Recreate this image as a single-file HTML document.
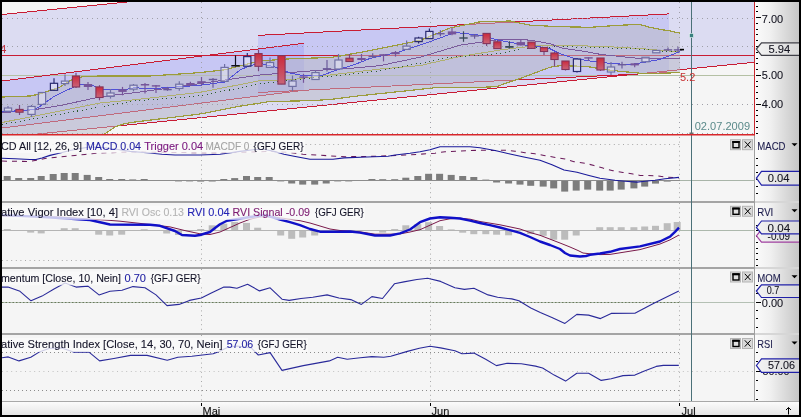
<!DOCTYPE html>
<html><head><meta charset="utf-8">
<style>
html,body{margin:0;padding:0;background:#000;width:801px;height:417px;overflow:hidden}
svg{display:block}
text{font-family:"Liberation Sans",Arial,sans-serif;font-size:11px}
.tt text{stroke-width:0.25px;paint-order:stroke}
</style></head><body>
<svg width="801" height="417" viewBox="0 0 801 417">
<defs>
<linearGradient id="ax" x1="0" x2="1" y1="0" y2="0">
<stop offset="0" stop-color="#fbfbfb"/><stop offset="0.35" stop-color="#f0f0f0"/><stop offset="1" stop-color="#c6c6c6"/>
</linearGradient>
<linearGradient id="xax" x1="0" x2="0" y1="0" y2="1">
<stop offset="0" stop-color="#fbfbfb"/><stop offset="1" stop-color="#e6e6e6"/>
</linearGradient>
<linearGradient id="tag" x1="0" x2="1" y1="0" y2="0">
<stop offset="0" stop-color="#f4f4f4"/><stop offset="1" stop-color="#d4d4d4"/>
</linearGradient>
<linearGradient id="rc" x1="0" x2="0" y1="0" y2="1">
<stop offset="0" stop-color="#cc2a3c"/><stop offset="1" stop-color="#c86478"/>
</linearGradient>
<clipPath id="cm"><rect x="2" y="2" width="752" height="132"/></clipPath>
</defs>
<!-- black frame -->
<rect x="0" y="0" width="801" height="417" fill="#000"/>
<!-- main panel bg -->
<rect x="2" y="2" width="752" height="133" fill="#f5f5f5"/>
<!-- sub panels bg -->
<rect x="2" y="135" width="752" height="266" fill="#f5f5f5"/>
<!-- right axis -->
<rect x="755" y="2" width="44" height="399" fill="url(#ax)"/>
<!-- x axis -->
<rect x="2" y="402" width="797" height="13" fill="url(#xax)"/>
<rect x="2" y="401" width="797" height="1" fill="#a8a8a8"/>
<!-- separators -->
<g fill="#a4a4a4">
<rect x="2" y="201" width="752" height="2"/>
<rect x="2" y="267" width="752" height="2"/>
<rect x="2" y="333" width="752" height="2"/>
</g>
<g fill="#d6d6d6">
<rect x="755" y="201" width="44" height="2"/>
<rect x="755" y="267" width="44" height="2"/>
<rect x="755" y="333" width="44" height="2"/>
</g>
<rect x="754" y="135" width="1" height="266" fill="#a0a0a0"/>

<g id="main" clip-path="url(#cm)">
<polygon points="2.0,14.5 125.0,2.0 754.0,2.0 754.0,62.3 2.0,137.5" fill="#dcdcf2"/>
<polygon points="2.0,81.0 304.0,43.2 304.0,90.2 2.0,128.0" fill="#5050ff" fill-opacity="0.15"/>
<polygon points="258.0,35.4 669.0,13.9 669.0,72.5 258.0,92.5" fill="#5050ff" fill-opacity="0.14"/>
<line x1="2" x2="754" y1="75.5" y2="75.5" stroke="#b4c0a4" stroke-width="1"/>
<polyline points="2.0,14.5 130.0,1.7" fill="none" stroke="#c81c34" stroke-width="1" shape-rendering="crispEdges" />
<polyline points="2.0,81.0 304.0,43.2" fill="none" stroke="#c81c34" stroke-width="1" shape-rendering="crispEdges" />
<polyline points="2.0,128.0 304.0,90.2" fill="none" stroke="#c81c34" stroke-width="1" shape-rendering="crispEdges" />
<polyline points="2.0,137.5 754.0,62.3" fill="none" stroke="#c81c34" stroke-width="1" shape-rendering="crispEdges" />
<polyline points="258.0,35.4 669.0,13.9" fill="none" stroke="#c81c34" stroke-width="1" shape-rendering="crispEdges" />
<polyline points="258.0,92.5 669.0,72.5" fill="none" stroke="#c81c34" stroke-width="1" shape-rendering="crispEdges" />
<line x1="2" x2="754" y1="55.5" y2="55.5" stroke="#c81c34" stroke-width="1" shape-rendering="crispEdges"/>
<polygon points="2.0,97.0 30.0,96.0 40.0,94.0 50.0,90.5 60.0,87.0 68.0,82.0 75.0,78.0 85.0,76.5 100.0,76.0 150.0,76.0 200.0,72.6 225.0,69.8 250.0,63.3 260.0,61.0 290.0,58.8 330.0,57.5 340.0,56.0 370.0,50.6 420.0,40.4 450.0,28.0 480.0,21.8 510.0,21.0 530.0,25.2 560.0,26.7 590.0,27.3 620.0,25.2 640.0,24.5 650.0,27.3 660.0,29.4 670.0,30.9 680.0,33.2 680.0,72.5 660.0,73.4 640.0,73.2 620.0,71.3 605.0,69.5 590.0,67.0 575.0,66.0 560.0,65.7 550.0,67.2 540.0,71.0 520.0,78.5 505.0,83.5 497.0,86.6 480.0,87.4 440.0,87.2 400.0,91.5 360.0,95.7 330.0,99.5 310.0,100.7 270.0,101.5 240.0,106.2 200.0,114.0 135.0,122.0 125.0,123.5 115.0,127.0 103.0,135.0 90.0,142.0 2.0,150.0" fill="#b8b8c4" fill-opacity="0.5"/>
<line x1="2" x2="754" y1="18.5" y2="18.5" stroke="#a0a0a8" stroke-width="1" stroke-dasharray="1 4"/>
<line x1="2" x2="754" y1="46.5" y2="46.5" stroke="#a0a0a8" stroke-width="1" stroke-dasharray="1 4"/>
<line x1="2" x2="754" y1="104.5" y2="104.5" stroke="#a0a0a8" stroke-width="1" stroke-dasharray="1 4"/>
<line x1="2" x2="754" y1="133.5" y2="133.5" stroke="#a0a0a8" stroke-width="1" stroke-dasharray="1 4"/>
<line x1="201.5" x2="201.5" y1="2" y2="135" stroke="#a0a0a8" stroke-width="1" stroke-dasharray="1 4"/>
<line x1="430.5" x2="430.5" y1="2" y2="135" stroke="#a0a0a8" stroke-width="1" stroke-dasharray="1 4"/>
<line x1="679.5" x2="679.5" y1="2" y2="135" stroke="#a0a0a8" stroke-width="1" stroke-dasharray="1 4"/>
<polyline points="2.0,97.0 30.0,96.0 40.0,94.0 50.0,90.5 60.0,87.0 68.0,82.0 75.0,78.0 85.0,76.5 100.0,76.0 150.0,76.0 200.0,72.6 225.0,69.8 250.0,63.3 260.0,61.0 290.0,58.8 330.0,57.5 340.0,56.0 370.0,50.6 420.0,40.4 450.0,28.0 480.0,21.8 510.0,21.0 530.0,25.2 560.0,26.7 590.0,27.3 620.0,25.2 640.0,24.5 650.0,27.3 660.0,29.4 670.0,30.9 680.0,33.2" fill="none" stroke="#9c9c3c" stroke-width="1.2" shape-rendering="crispEdges" />
<polyline points="2.0,150.0 90.0,142.0 103.0,135.0 115.0,127.0 125.0,123.5 135.0,122.0 200.0,114.0 240.0,106.2 270.0,101.5 310.0,100.7 330.0,99.5 360.0,95.7 400.0,91.5 440.0,87.2 480.0,87.4 497.0,86.6 505.0,83.5 520.0,78.5 540.0,71.0 550.0,67.2 560.0,65.7 575.0,66.0 590.0,67.0 605.0,69.5 620.0,71.3 640.0,73.2 660.0,73.4 680.0,72.5" fill="none" stroke="#9c9c3c" stroke-width="1.2" shape-rendering="crispEdges" />
<polyline points="2.0,122.5 100.0,103.0 135.0,99.7 200.0,92.3 260.0,80.7 290.0,79.8 330.0,75.0 380.0,69.0 420.0,65.6 460.0,56.5 500.0,50.0 537.0,45.5 562.0,45.6 600.0,46.2 640.0,48.5 680.0,52.0" fill="none" stroke="#b0b070" stroke-width="1" shape-rendering="crispEdges" />
<polyline points="2.0,124.5 100.0,107.0 135.0,101.0 200.0,95.8 260.0,84.0 290.0,80.4 330.0,76.2 380.0,70.8 450.0,57.4 500.0,53.5 512.0,51.2 525.0,48.7 537.0,47.5 562.0,46.8 600.0,47.5 640.0,49.2 660.0,51.0 680.0,51.6" fill="none" stroke="#2a5a2a" stroke-width="1" shape-rendering="crispEdges" stroke-dasharray="1 3.5"/>
<polyline points="2.0,113.0 36.0,109.4 60.0,105.6 100.0,96.9 140.0,92.0 180.0,86.5 260.0,75.0 290.0,72.6 320.0,70.2 350.0,68.4 380.0,65.6 420.0,57.2 460.0,45.2 500.0,39.4 525.0,39.7 537.0,41.2 550.0,43.7 562.0,48.1 575.0,50.0 587.0,51.8 600.0,54.3 620.0,56.5 640.0,58.5 660.0,59.0 680.0,58.2" fill="none" stroke="#7a5a9c" stroke-width="1" shape-rendering="crispEdges" />
<polyline points="2.0,112.0 35.0,109.4 42.0,105.0 55.0,95.8 65.0,91.0 75.0,86.5 82.0,84.2 90.0,84.2 100.0,88.8 110.0,90.0 125.0,89.5 135.0,87.7 150.0,88.8 200.0,85.3 225.0,82.0 240.0,70.0 250.0,65.6 260.0,63.3 275.0,67.0 290.0,73.0 300.0,75.0 320.0,76.0 340.0,69.0 350.0,66.0 360.0,62.5 370.0,58.4 400.0,51.8 430.0,41.6 455.0,32.5 480.0,35.2 500.0,40.5 525.0,45.0 537.0,46.2 550.0,48.7 556.0,51.8 562.0,54.3 569.0,56.8 575.0,58.5 587.0,60.6 600.0,62.5 630.0,64.8 660.0,59.4 680.0,51.6" fill="none" stroke="#5050d8" stroke-width="1" shape-rendering="crispEdges" />
<line x1="8" x2="8" y1="106" y2="108" stroke="#7070a4" stroke-width="1.2"/>
<line x1="8" x2="8" y1="111.2" y2="112.5" stroke="#7070a4" stroke-width="1.2"/>
<rect x="4.4" y="108.0" width="7.2" height="3.2" fill="#eeeef8" fill-opacity="0.45" stroke="#7070a4" stroke-width="1.2"/>
<line x1="19.5" x2="19.5" y1="105" y2="115" stroke="#7a4a80" stroke-width="1.2"/>
<rect x="15.9" y="109.4" width="7.2" height="2.8" fill="url(#rc)" stroke="#84345a" stroke-width="1.1"/>
<line x1="31.5" x2="31.5" y1="105" y2="106.5" stroke="#7070a4" stroke-width="1.2"/>
<line x1="31.5" x2="31.5" y1="114.4" y2="117" stroke="#7070a4" stroke-width="1.2"/>
<rect x="27.9" y="106.5" width="7.2" height="7.9" fill="#eeeef8" fill-opacity="0.45" stroke="#7070a4" stroke-width="1.2"/>
<line x1="42" x2="42" y1="104.4" y2="105" stroke="#7070a4" stroke-width="1.2"/>
<rect x="38.4" y="92.5" width="7.2" height="11.9" fill="#eeeef8" fill-opacity="0.45" stroke="#7070a4" stroke-width="1.2"/>
<line x1="54" x2="54" y1="78.3" y2="83.3" stroke="#2a2a70" stroke-width="1.2"/>
<line x1="54" x2="54" y1="90.3" y2="91" stroke="#2a2a70" stroke-width="1.2"/>
<rect x="50.4" y="83.3" width="7.2" height="7.0" fill="#eeeef8" fill-opacity="0.45" stroke="#2a2a70" stroke-width="1.2"/>
<line x1="65" x2="65" y1="74.4" y2="81.1" stroke="#7070a4" stroke-width="1.2"/>
<line x1="65" x2="65" y1="83.6" y2="86" stroke="#7070a4" stroke-width="1.2"/>
<rect x="61.4" y="81.1" width="7.2" height="2.5" fill="#eeeef8" fill-opacity="0.45" stroke="#7070a4" stroke-width="1.2"/>
<line x1="76" x2="76" y1="72.7" y2="88" stroke="#7a4a80" stroke-width="1.2"/>
<rect x="72.4" y="76.0" width="7.2" height="11.0" fill="url(#rc)" stroke="#84345a" stroke-width="1.1"/>
<line x1="88" x2="88" y1="82" y2="90" stroke="#76549a" stroke-width="1.2"/>
<rect x="83.8" y="84.0" width="8.4" height="3.0" fill="#76549a"/>
<line x1="99.5" x2="99.5" y1="85.2" y2="100.3" stroke="#7a4a80" stroke-width="1.2"/>
<rect x="95.9" y="86.9" width="7.2" height="10.6" fill="url(#rc)" stroke="#84345a" stroke-width="1.1"/>
<line x1="110.5" x2="110.5" y1="89" y2="93" stroke="#7070a4" stroke-width="1.2"/>
<line x1="110.5" x2="110.5" y1="96.4" y2="98.6" stroke="#7070a4" stroke-width="1.2"/>
<rect x="106.9" y="93.0" width="7.2" height="3.4" fill="#eeeef8" fill-opacity="0.45" stroke="#7070a4" stroke-width="1.2"/>
<line x1="122.5" x2="122.5" y1="86.9" y2="95.3" stroke="#76549a" stroke-width="1.2"/>
<rect x="118.3" y="89.3" width="8.4" height="2.6" fill="#76549a"/>
<line x1="133.5" x2="133.5" y1="84" y2="85.2" stroke="#7070a4" stroke-width="1.2"/>
<line x1="133.5" x2="133.5" y1="89.1" y2="91.3" stroke="#7070a4" stroke-width="1.2"/>
<rect x="129.9" y="85.2" width="7.2" height="3.9" fill="#eeeef8" fill-opacity="0.45" stroke="#7070a4" stroke-width="1.2"/>
<line x1="145" x2="145" y1="83" y2="93.6" stroke="#76549a" stroke-width="1.2"/>
<rect x="140.8" y="84.0" width="8.4" height="1.5" fill="#76549a"/>
<line x1="156" x2="156" y1="85" y2="93" stroke="#76549a" stroke-width="1.2"/>
<rect x="151.8" y="85.2" width="8.4" height="1.4" fill="#76549a"/>
<line x1="167.5" x2="167.5" y1="86.9" y2="90.8" stroke="#6a5a9a" stroke-width="1.2"/>
<rect x="163.3" y="88.9" width="8.4" height="1.4" fill="#6a5a9a"/>
<line x1="179.3" x2="179.3" y1="81.2" y2="84.2" stroke="#7070a4" stroke-width="1.2"/>
<line x1="179.3" x2="179.3" y1="88.4" y2="90.8" stroke="#7070a4" stroke-width="1.2"/>
<rect x="175.7" y="84.2" width="7.2" height="4.2" fill="#eeeef8" fill-opacity="0.45" stroke="#7070a4" stroke-width="1.2"/>
<line x1="190.4" x2="190.4" y1="81.8" y2="86" stroke="#76549a" stroke-width="1.2"/>
<rect x="186.2" y="83.0" width="8.4" height="2.4" fill="#76549a"/>
<line x1="201.5" x2="201.5" y1="77" y2="85.4" stroke="#76549a" stroke-width="1.2"/>
<rect x="197.3" y="81.2" width="8.4" height="1.8" fill="#76549a"/>
<line x1="213" x2="213" y1="78" y2="87.8" stroke="#6a5a9a" stroke-width="1.2"/>
<rect x="208.8" y="78.8" width="8.4" height="1.4" fill="#6a5a9a"/>
<line x1="224.6" x2="224.6" y1="64.1" y2="67.4" stroke="#7070a4" stroke-width="1.2"/>
<rect x="221.0" y="67.4" width="7.2" height="14.0" fill="#eeeef8" fill-opacity="0.45" stroke="#7070a4" stroke-width="1.2"/>
<line x1="235.5" x2="235.5" y1="55.4" y2="66.5" stroke="#101020" stroke-width="1.2"/>
<rect x="231.3" y="65.0" width="8.4" height="1.5" fill="#101020"/>
<line x1="247.3" x2="247.3" y1="53" y2="56.6" stroke="#2a2a70" stroke-width="1.2"/>
<rect x="243.7" y="56.6" width="7.2" height="9.6" fill="#eeeef8" fill-opacity="0.45" stroke="#2a2a70" stroke-width="1.2"/>
<line x1="258.5" x2="258.5" y1="49.6" y2="71.2" stroke="#7a4a80" stroke-width="1.2"/>
<rect x="254.9" y="53.6" width="7.2" height="12.7" fill="url(#rc)" stroke="#84345a" stroke-width="1.1"/>
<line x1="270" x2="270" y1="57.4" y2="62.5" stroke="#7070a4" stroke-width="1.2"/>
<rect x="266.4" y="62.5" width="7.2" height="4.9" fill="#eeeef8" fill-opacity="0.45" stroke="#7070a4" stroke-width="1.2"/>
<line x1="281.5" x2="281.5" y1="55.6" y2="84.1" stroke="#7a4a80" stroke-width="1.2"/>
<rect x="277.9" y="55.6" width="7.2" height="28.5" fill="url(#rc)" stroke="#84345a" stroke-width="1.1"/>
<line x1="292.5" x2="292.5" y1="75.6" y2="81" stroke="#7070a4" stroke-width="1.2"/>
<line x1="292.5" x2="292.5" y1="86.4" y2="91.2" stroke="#7070a4" stroke-width="1.2"/>
<rect x="288.9" y="81.0" width="7.2" height="5.4" fill="#eeeef8" fill-opacity="0.45" stroke="#7070a4" stroke-width="1.2"/>
<line x1="303.5" x2="303.5" y1="73.8" y2="82.8" stroke="#76549a" stroke-width="1.2"/>
<rect x="299.3" y="76.4" width="8.4" height="1.4" fill="#76549a"/>
<line x1="315.5" x2="315.5" y1="70.2" y2="72.6" stroke="#7070a4" stroke-width="1.2"/>
<rect x="311.9" y="72.6" width="7.2" height="6.9" fill="#eeeef8" fill-opacity="0.45" stroke="#7070a4" stroke-width="1.2"/>
<line x1="327" x2="327" y1="60" y2="71.4" stroke="#6a5a9a" stroke-width="1.2"/>
<rect x="322.8" y="68.1" width="8.4" height="1.4" fill="#6a5a9a"/>
<line x1="338.5" x2="338.5" y1="54" y2="60" stroke="#7070a4" stroke-width="1.2"/>
<rect x="334.9" y="60.0" width="7.2" height="9.0" fill="#eeeef8" fill-opacity="0.45" stroke="#7070a4" stroke-width="1.2"/>
<line x1="349.5" x2="349.5" y1="54" y2="61.5" stroke="#7a4a80" stroke-width="1.2"/>
<rect x="345.9" y="58.2" width="7.2" height="3.3" fill="url(#rc)" stroke="#84345a" stroke-width="1.1"/>
<line x1="361.5" x2="361.5" y1="54" y2="61.2" stroke="#76549a" stroke-width="1.2"/>
<rect x="357.3" y="58.0" width="8.4" height="2.0" fill="#76549a"/>
<line x1="372.7" x2="372.7" y1="53.2" y2="58" stroke="#6a5a9a" stroke-width="1.2"/>
<rect x="368.5" y="55.8" width="8.4" height="1.4" fill="#6a5a9a"/>
<line x1="383.5" x2="383.5" y1="54.2" y2="61.4" stroke="#76549a" stroke-width="1.2"/>
<rect x="379.3" y="54.2" width="8.4" height="1.8" fill="#76549a"/>
<line x1="395.5" x2="395.5" y1="51" y2="56.6" stroke="#76549a" stroke-width="1.2"/>
<rect x="391.3" y="52.1" width="8.4" height="2.1" fill="#76549a"/>
<line x1="406.6" x2="406.6" y1="40.4" y2="46.1" stroke="#7070a4" stroke-width="1.2"/>
<rect x="403.0" y="46.1" width="7.2" height="3.3" fill="#eeeef8" fill-opacity="0.45" stroke="#7070a4" stroke-width="1.2"/>
<line x1="418.6" x2="418.6" y1="36.8" y2="38" stroke="#2a2a70" stroke-width="1.2"/>
<line x1="418.6" x2="418.6" y1="41.6" y2="43.4" stroke="#2a2a70" stroke-width="1.2"/>
<rect x="415.0" y="38.0" width="7.2" height="3.6" fill="#eeeef8" fill-opacity="0.45" stroke="#2a2a70" stroke-width="1.2"/>
<line x1="429.4" x2="429.4" y1="28.4" y2="31.4" stroke="#2a2a70" stroke-width="1.2"/>
<rect x="425.8" y="31.4" width="7.2" height="7.2" fill="#eeeef8" fill-opacity="0.45" stroke="#2a2a70" stroke-width="1.2"/>
<line x1="440.4" x2="440.4" y1="30.2" y2="36.2" stroke="#6a5a9a" stroke-width="1.2"/>
<rect x="436.2" y="33.0" width="8.4" height="1.4" fill="#6a5a9a"/>
<line x1="452" x2="452" y1="27.8" y2="35.3" stroke="#76549a" stroke-width="1.2"/>
<rect x="447.8" y="31.4" width="8.4" height="3.0" fill="#76549a"/>
<line x1="463.5" x2="463.5" y1="31.3" y2="41.8" stroke="#3a4a5a" stroke-width="1.2"/>
<rect x="459.3" y="37.3" width="8.4" height="1.4" fill="#3a4a5a"/>
<line x1="474.6" x2="474.6" y1="34" y2="38.8" stroke="#6a5a9a" stroke-width="1.2"/>
<rect x="470.4" y="35.2" width="8.4" height="1.4" fill="#6a5a9a"/>
<line x1="486.6" x2="486.6" y1="33.4" y2="46" stroke="#7a4a80" stroke-width="1.2"/>
<rect x="483.0" y="33.4" width="7.2" height="10.2" fill="url(#rc)" stroke="#84345a" stroke-width="1.1"/>
<line x1="497.4" x2="497.4" y1="40" y2="48.6" stroke="#7a4a80" stroke-width="1.2"/>
<rect x="493.8" y="41.8" width="7.2" height="6.8" fill="url(#rc)" stroke="#84345a" stroke-width="1.1"/>
<line x1="509.4" x2="509.4" y1="41.2" y2="48.4" stroke="#3a4a5a" stroke-width="1.2"/>
<rect x="505.2" y="46.0" width="8.4" height="1.8" fill="#3a4a5a"/>
<line x1="520.8" x2="520.8" y1="40" y2="45.4" stroke="#76549a" stroke-width="1.2"/>
<rect x="516.6" y="42.1" width="8.4" height="3.3" fill="#76549a"/>
<line x1="531.5" x2="531.5" y1="42.1" y2="48.4" stroke="#7a4a80" stroke-width="1.2"/>
<rect x="527.9" y="42.1" width="7.2" height="6.3" fill="url(#rc)" stroke="#84345a" stroke-width="1.1"/>
<line x1="544" x2="544" y1="47.5" y2="55" stroke="#7a4a80" stroke-width="1.2"/>
<rect x="540.4" y="47.5" width="7.2" height="4.0" fill="url(#rc)" stroke="#84345a" stroke-width="1.1"/>
<line x1="554.5" x2="554.5" y1="52" y2="66.5" stroke="#7a4a80" stroke-width="1.2"/>
<rect x="550.9" y="53.0" width="7.2" height="6.5" fill="url(#rc)" stroke="#84345a" stroke-width="1.1"/>
<line x1="565.5" x2="565.5" y1="61" y2="70.5" stroke="#7a4a80" stroke-width="1.2"/>
<rect x="561.9" y="61.0" width="7.2" height="8.5" fill="url(#rc)" stroke="#84345a" stroke-width="1.1"/>
<line x1="577" x2="577" y1="71.5" y2="72.5" stroke="#2a2a70" stroke-width="1.2"/>
<rect x="573.4" y="59.0" width="7.2" height="12.5" fill="#eeeef8" fill-opacity="0.45" stroke="#2a2a70" stroke-width="1.2"/>
<line x1="588.5" x2="588.5" y1="57.2" y2="61" stroke="#76549a" stroke-width="1.2"/>
<rect x="584.3" y="57.2" width="8.4" height="1.4" fill="#76549a"/>
<line x1="600.5" x2="600.5" y1="58" y2="71" stroke="#7a4a80" stroke-width="1.2"/>
<rect x="596.9" y="58.0" width="7.2" height="12.0" fill="url(#rc)" stroke="#84345a" stroke-width="1.1"/>
<line x1="611" x2="611" y1="62" y2="67" stroke="#7070a4" stroke-width="1.2"/>
<line x1="611" x2="611" y1="72" y2="75" stroke="#7070a4" stroke-width="1.2"/>
<rect x="607.4" y="67.0" width="7.2" height="5.0" fill="#eeeef8" fill-opacity="0.45" stroke="#7070a4" stroke-width="1.2"/>
<line x1="622" x2="622" y1="61.8" y2="68.4" stroke="#6a5a9a" stroke-width="1.2"/>
<rect x="617.8" y="64.0" width="8.4" height="1.4" fill="#6a5a9a"/>
<line x1="634.7" x2="634.7" y1="63.3" y2="67.2" stroke="#76549a" stroke-width="1.2"/>
<rect x="630.5" y="63.3" width="8.4" height="2.1" fill="#76549a"/>
<rect x="641.9" y="57.3" width="7.2" height="4.5" fill="#eeeef8" fill-opacity="0.45" stroke="#7070a4" stroke-width="1.2"/>
<rect x="652.7" y="50.4" width="7.2" height="2.4" fill="#eeeef8" fill-opacity="0.45" stroke="#7070a4" stroke-width="1.2"/>
<line x1="668" x2="668" y1="47.4" y2="50.6" stroke="#6a5a9a" stroke-width="1.2"/>
<rect x="663.8" y="49.2" width="8.4" height="1.4" fill="#6a5a9a"/>
<line x1="678" x2="678" y1="46.8" y2="52.2" stroke="#6a5a9a" stroke-width="1.2"/>
<rect x="673.8" y="49.2" width="8.4" height="1.4" fill="#6a5a9a"/>
<rect x="680" y="48.8" width="4" height="1.6" fill="#000"/>
<rect x="691" y="2" width="1" height="133" fill="#4a7078"/>
<rect x="689.5" y="33.5" width="4" height="4" fill="#3a8080" stroke="#e8f4f4" stroke-width="0.6"/>
<rect x="689.5" y="132.5" width="4" height="3" fill="#6a6a6a"/>
<text x="680" y="81" fill="#c83030" font-size="11">5.2</text>
<text x="0.3" y="52.8" fill="#c03040" font-size="11.5">4</text>
<text x="694.7" y="129.7" fill="#5a8a8a" font-size="11" textLength="55.4" lengthAdjust="spacingAndGlyphs">02.07.2009</text>
</g>
<line x1="201.5" x2="201.5" y1="137" y2="201" stroke="#a8a8a8" stroke-width="1" stroke-dasharray="1 3.6"/><line x1="430.5" x2="430.5" y1="137" y2="201" stroke="#a8a8a8" stroke-width="1" stroke-dasharray="1 3.6"/><line x1="679.5" x2="679.5" y1="137" y2="201" stroke="#a8a8a8" stroke-width="1" stroke-dasharray="1 3.6"/>
<line x1="2" x2="679.5" y1="144.5" y2="144.5" stroke="#a8a8a8" stroke-width="1" stroke-dasharray="1 3.6"/>
<rect x="3.7" y="176.0" width="7" height="4.5" fill="#7c7c7c"/>
<rect x="15.2" y="178.0" width="7" height="2.5" fill="#7c7c7c"/>
<rect x="27.2" y="178.0" width="7" height="2.5" fill="#7c7c7c"/>
<rect x="37.7" y="176.0" width="7" height="4.5" fill="#7c7c7c"/>
<rect x="49.7" y="174.0" width="7" height="6.5" fill="#7c7c7c"/>
<rect x="60.7" y="173.0" width="7" height="7.5" fill="#7c7c7c"/>
<rect x="71.7" y="173.0" width="7" height="7.5" fill="#7c7c7c"/>
<rect x="83.7" y="174.9" width="7" height="5.6" fill="#7c7c7c"/>
<rect x="95.2" y="177.0" width="7" height="3.5" fill="#7c7c7c"/>
<rect x="106.2" y="179.0" width="7" height="1.5" fill="#7c7c7c"/>
<rect x="118.2" y="179.0" width="7" height="1.5" fill="#7c7c7c"/>
<rect x="129.2" y="179.4" width="7" height="1.1" fill="#7c7c7c"/>
<rect x="140.7" y="179.0" width="7" height="1.5" fill="#7c7c7c"/>
<rect x="151.7" y="180.0" width="7" height="1.0" fill="#7c7c7c"/>
<rect x="163.2" y="180.0" width="7" height="1.0" fill="#7c7c7c"/>
<rect x="175.0" y="180.5" width="7" height="0.9" fill="#7c7c7c"/>
<rect x="186.1" y="180.5" width="7" height="0.9" fill="#7c7c7c"/>
<rect x="197.2" y="180.5" width="7" height="1.1" fill="#7c7c7c"/>
<rect x="208.7" y="180.5" width="7" height="1.0" fill="#7c7c7c"/>
<rect x="220.3" y="179.0" width="7" height="1.5" fill="#7c7c7c"/>
<rect x="231.2" y="178.1" width="7" height="2.4" fill="#7c7c7c"/>
<rect x="243.0" y="176.0" width="7" height="4.5" fill="#7c7c7c"/>
<rect x="254.2" y="177.0" width="7" height="3.5" fill="#7c7c7c"/>
<rect x="265.7" y="177.0" width="7" height="3.5" fill="#7c7c7c"/>
<rect x="277.2" y="180.5" width="7" height="0.9" fill="#7c7c7c"/>
<rect x="288.2" y="180.5" width="7" height="3.0" fill="#7c7c7c"/>
<rect x="299.2" y="180.5" width="7" height="4.1" fill="#7c7c7c"/>
<rect x="311.2" y="180.5" width="7" height="4.1" fill="#7c7c7c"/>
<rect x="322.7" y="180.5" width="7" height="3.0" fill="#7c7c7c"/>
<rect x="334.2" y="180.5" width="7" height="0.9" fill="#7c7c7c"/>
<rect x="345.2" y="180.5" width="7" height="0.9" fill="#7c7c7c"/>
<rect x="357.2" y="180.0" width="7" height="1.0" fill="#7c7c7c"/>
<rect x="368.4" y="179.0" width="7" height="1.5" fill="#7c7c7c"/>
<rect x="379.2" y="179.2" width="7" height="1.3" fill="#7c7c7c"/>
<rect x="391.2" y="179.2" width="7" height="1.3" fill="#7c7c7c"/>
<rect x="402.3" y="177.7" width="7" height="2.8" fill="#7c7c7c"/>
<rect x="414.3" y="176.0" width="7" height="4.5" fill="#7c7c7c"/>
<rect x="425.1" y="173.8" width="7" height="6.7" fill="#7c7c7c"/>
<rect x="436.1" y="173.8" width="7" height="6.7" fill="#7c7c7c"/>
<rect x="447.7" y="174.9" width="7" height="5.6" fill="#7c7c7c"/>
<rect x="459.2" y="176.0" width="7" height="4.5" fill="#7c7c7c"/>
<rect x="470.3" y="177.0" width="7" height="3.5" fill="#7c7c7c"/>
<rect x="482.3" y="179.6" width="7" height="0.9" fill="#7c7c7c"/>
<rect x="493.1" y="180.5" width="7" height="2.0" fill="#7c7c7c"/>
<rect x="505.1" y="180.5" width="7" height="3.0" fill="#7c7c7c"/>
<rect x="516.5" y="180.5" width="7" height="4.1" fill="#7c7c7c"/>
<rect x="527.2" y="180.5" width="7" height="5.3" fill="#7c7c7c"/>
<rect x="539.7" y="180.5" width="7" height="6.1" fill="#7c7c7c"/>
<rect x="550.2" y="180.5" width="7" height="7.9" fill="#7c7c7c"/>
<rect x="561.2" y="180.5" width="7" height="11.1" fill="#7c7c7c"/>
<rect x="572.7" y="180.5" width="7" height="10.1" fill="#7c7c7c"/>
<rect x="584.2" y="180.5" width="7" height="9.1" fill="#7c7c7c"/>
<rect x="596.2" y="180.5" width="7" height="10.1" fill="#7c7c7c"/>
<rect x="606.7" y="180.5" width="7" height="10.1" fill="#7c7c7c"/>
<rect x="617.7" y="180.5" width="7" height="9.1" fill="#7c7c7c"/>
<rect x="630.4" y="180.5" width="7" height="7.9" fill="#7c7c7c"/>
<rect x="641.2" y="180.5" width="7" height="6.1" fill="#7c7c7c"/>
<rect x="652.0" y="180.5" width="7" height="3.1" fill="#7c7c7c"/>
<rect x="663.7" y="180.5" width="7" height="1.1" fill="#7c7c7c"/>
<rect x="673.7" y="180.0" width="7" height="1.0" fill="#7c7c7c"/>
<line x1="2" x2="754" y1="180.5" y2="180.5" stroke="#a8b4a8" stroke-width="1"/>
<line x1="2" x2="680" y1="180.5" y2="180.5" stroke="#8c8c8c" stroke-width="1"/>
<polyline points="2.0,161.1 30.0,161.5 35.0,160.5 45.0,158.5 60.0,157.0 75.0,155.5 85.0,154.4 100.0,153.0 130.0,152.0 160.0,152.3 190.0,152.6 225.0,152.8 250.0,152.0 270.0,151.5 290.0,152.5 303.0,154.3 336.0,156.2 345.0,156.7 375.0,156.3 390.0,155.7 405.0,155.0 420.0,154.2 435.0,153.2 445.0,151.7 460.0,151.0 480.0,150.2 495.0,150.5 505.0,150.2 515.0,151.2 525.0,152.7 535.0,153.8 544.0,155.4 554.0,157.2 565.0,159.0 574.0,161.7 585.0,163.2 594.0,165.5 603.0,168.1 613.0,170.7 623.0,172.4 633.0,174.1 640.0,175.4 655.0,175.7 665.0,176.9 679.0,178.0" fill="none" stroke="#6a1a5a" stroke-width="1.05" stroke-linejoin="round" stroke-dasharray="5 5"/>
<polyline points="2.0,158.2 15.0,158.7 30.0,159.5 36.0,159.5 42.0,158.0 50.0,155.4 60.0,153.0 70.0,150.5 80.0,148.5 90.0,147.0 100.0,147.3 115.0,149.0 130.0,151.4 150.0,153.0 162.0,154.3 175.0,155.0 200.0,155.0 220.0,154.3 240.0,151.4 255.0,149.5 265.0,149.5 274.0,151.4 284.0,154.3 294.0,156.2 310.0,159.2 333.0,159.2 344.0,157.9 367.0,157.0 388.0,156.2 395.0,155.0 410.0,153.2 420.0,151.7 430.0,149.7 440.0,146.7 470.0,146.7 480.0,147.8 495.0,150.5 510.0,154.0 525.0,157.2 540.0,160.2 552.0,164.7 564.0,170.0 577.0,172.2 588.0,175.2 600.0,178.2 615.0,180.3 625.0,181.2 637.0,182.1 645.0,181.3 655.0,180.2 665.0,178.7 679.0,177.4" fill="none" stroke="#1a1a9a" stroke-width="1.15" stroke-linejoin="round" />
<line x1="201.5" x2="201.5" y1="203" y2="267" stroke="#a8a8a8" stroke-width="1" stroke-dasharray="1 3.6"/><line x1="430.5" x2="430.5" y1="203" y2="267" stroke="#a8a8a8" stroke-width="1" stroke-dasharray="1 3.6"/><line x1="679.5" x2="679.5" y1="203" y2="267" stroke="#a8a8a8" stroke-width="1" stroke-dasharray="1 3.6"/>
<line x1="2" x2="679.5" y1="260.5" y2="260.5" stroke="#a8a8a8" stroke-width="1" stroke-dasharray="1 3.6"/>
<rect x="3.7" y="229.0" width="7" height="1.5" fill="#bcbcbc"/>
<rect x="27.2" y="230.5" width="7" height="2.1" fill="#bcbcbc"/>
<rect x="37.7" y="230.5" width="7" height="2.9" fill="#bcbcbc"/>
<rect x="60.7" y="228.2" width="7" height="2.3" fill="#bcbcbc"/>
<rect x="71.7" y="228.2" width="7" height="2.3" fill="#bcbcbc"/>
<rect x="95.2" y="230.5" width="7" height="4.2" fill="#bcbcbc"/>
<rect x="106.2" y="230.5" width="7" height="5.0" fill="#bcbcbc"/>
<rect x="118.2" y="230.5" width="7" height="4.2" fill="#bcbcbc"/>
<rect x="140.7" y="229.2" width="7" height="1.3" fill="#bcbcbc"/>
<rect x="163.2" y="230.5" width="7" height="3.0" fill="#bcbcbc"/>
<rect x="175.0" y="230.5" width="7" height="4.5" fill="#bcbcbc"/>
<rect x="186.1" y="230.5" width="7" height="0.7" fill="#bcbcbc"/>
<rect x="197.2" y="229.0" width="7" height="1.5" fill="#bcbcbc"/>
<rect x="208.7" y="225.3" width="7" height="5.2" fill="#bcbcbc"/>
<rect x="220.3" y="223.7" width="7" height="6.8" fill="#bcbcbc"/>
<rect x="231.2" y="222.0" width="7" height="8.5" fill="#bcbcbc"/>
<rect x="243.0" y="222.9" width="7" height="7.6" fill="#bcbcbc"/>
<rect x="254.2" y="227.7" width="7" height="2.8" fill="#bcbcbc"/>
<rect x="277.2" y="230.5" width="7" height="5.0" fill="#bcbcbc"/>
<rect x="288.2" y="230.5" width="7" height="8.3" fill="#bcbcbc"/>
<rect x="299.2" y="230.5" width="7" height="7.0" fill="#bcbcbc"/>
<rect x="311.2" y="230.5" width="7" height="5.0" fill="#bcbcbc"/>
<rect x="379.2" y="230.5" width="7" height="2.1" fill="#bcbcbc"/>
<rect x="391.2" y="229.0" width="7" height="1.5" fill="#bcbcbc"/>
<rect x="402.3" y="225.3" width="7" height="5.2" fill="#bcbcbc"/>
<rect x="414.3" y="224.2" width="7" height="6.3" fill="#bcbcbc"/>
<rect x="425.1" y="222.2" width="7" height="8.3" fill="#bcbcbc"/>
<rect x="436.1" y="226.0" width="7" height="4.5" fill="#bcbcbc"/>
<rect x="447.7" y="229.4" width="7" height="1.1" fill="#bcbcbc"/>
<rect x="459.2" y="230.5" width="7" height="2.2" fill="#bcbcbc"/>
<rect x="470.3" y="230.5" width="7" height="3.7" fill="#bcbcbc"/>
<rect x="482.3" y="230.5" width="7" height="3.7" fill="#bcbcbc"/>
<rect x="493.1" y="230.5" width="7" height="4.2" fill="#bcbcbc"/>
<rect x="505.1" y="230.5" width="7" height="4.8" fill="#bcbcbc"/>
<rect x="527.2" y="230.5" width="7" height="3.5" fill="#bcbcbc"/>
<rect x="539.7" y="230.5" width="7" height="5.3" fill="#bcbcbc"/>
<rect x="550.2" y="230.5" width="7" height="9.2" fill="#bcbcbc"/>
<rect x="561.2" y="230.5" width="7" height="9.2" fill="#bcbcbc"/>
<rect x="572.7" y="230.5" width="7" height="5.0" fill="#bcbcbc"/>
<rect x="596.2" y="227.2" width="7" height="3.3" fill="#bcbcbc"/>
<rect x="606.7" y="227.2" width="7" height="3.3" fill="#bcbcbc"/>
<rect x="617.7" y="227.2" width="7" height="3.3" fill="#bcbcbc"/>
<rect x="630.4" y="227.2" width="7" height="3.3" fill="#bcbcbc"/>
<rect x="641.2" y="226.5" width="7" height="4.0" fill="#bcbcbc"/>
<rect x="652.0" y="225.8" width="7" height="4.7" fill="#bcbcbc"/>
<rect x="663.7" y="223.2" width="7" height="7.3" fill="#bcbcbc"/>
<rect x="673.7" y="222.0" width="7" height="8.5" fill="#bcbcbc"/>
<line x1="2" x2="754" y1="230.5" y2="230.5" stroke="#acb8ac" stroke-width="1"/>
<line x1="2" x2="680" y1="230.5" y2="230.5" stroke="#b4b4b4" stroke-width="1"/>
<polyline points="2.0,216.0 60.0,217.0 110.0,220.4 120.0,221.2 150.0,224.5 170.0,226.9 185.0,230.6 200.0,233.8 210.0,234.5 220.0,232.0 230.0,227.5 240.0,223.0 250.0,219.2 260.0,217.0 272.0,216.8 285.0,218.5 300.0,220.7 310.0,223.0 320.0,226.0 330.0,229.0 340.0,230.5 360.0,231.8 375.0,234.2 390.0,234.2 400.0,233.9 410.0,232.0 420.0,229.7 430.0,225.2 440.0,220.7 450.0,218.8 460.0,218.2 470.0,219.2 480.0,221.5 500.0,224.8 520.0,229.0 530.0,232.5 540.0,235.3 560.0,243.0 570.0,247.0 578.0,250.5 583.0,253.0 590.0,253.8 600.0,254.6 610.0,254.4 620.0,252.8 640.0,249.6 660.0,244.0 670.0,239.9 679.0,235.0" fill="none" stroke="#7a1a4a" stroke-width="1" stroke-linejoin="round" />
<polyline points="2.0,215.0 30.0,216.4 60.0,218.0 90.0,220.0 110.0,224.5 150.0,224.8 160.0,225.8 175.0,231.0 182.0,235.0 195.0,235.7 200.0,235.0 210.0,232.0 215.0,228.0 220.0,224.2 227.0,220.7 235.0,219.5 250.0,217.0 265.0,215.0 280.0,219.5 290.0,222.2 300.0,225.2 310.0,229.0 320.0,231.7 340.0,231.7 350.0,231.5 360.0,232.6 375.0,235.5 390.0,235.5 400.0,233.4 410.0,229.5 420.0,222.2 430.0,218.5 440.0,217.3 450.0,217.7 460.0,218.5 470.0,220.7 480.0,223.0 490.0,225.2 500.0,227.5 510.0,230.2 520.0,232.9 530.0,237.0 540.0,241.5 550.0,245.0 560.0,249.0 565.0,253.0 570.0,255.5 580.0,256.5 586.0,256.0 590.0,254.8 600.0,253.5 610.0,251.8 620.0,249.0 640.0,246.4 660.0,241.5 670.0,236.7 675.0,231.8 679.0,227.7" fill="none" stroke="#1010c8" stroke-width="2.4" stroke-linejoin="round" />
<line x1="201.5" x2="201.5" y1="269" y2="333" stroke="#a8a8a8" stroke-width="1" stroke-dasharray="1 3.6"/><line x1="430.5" x2="430.5" y1="269" y2="333" stroke="#a8a8a8" stroke-width="1" stroke-dasharray="1 3.6"/><line x1="679.5" x2="679.5" y1="269" y2="333" stroke="#a8a8a8" stroke-width="1" stroke-dasharray="1 3.6"/>
<line x1="2" x2="754" y1="302.5" y2="302.5" stroke="#b4c0b4" stroke-width="1"/>
<line x1="2" x2="680" y1="302.5" y2="302.5" stroke="#6a7a5a" stroke-width="1" stroke-dasharray="1.5 2"/>
<polyline points="2.0,287.1 8.0,287.0 20.0,291.3 31.0,300.8 42.0,296.1 54.0,289.0 65.0,283.0 76.0,287.1 88.0,286.1 99.0,294.9 110.0,291.3 122.0,290.2 133.0,286.6 145.0,287.8 156.0,294.9 167.0,305.6 179.0,304.4 189.5,300.4 201.3,298.0 210.8,293.2 223.9,287.1 229.8,287.1 236.9,288.3 247.6,284.2 259.5,290.9 270.1,287.8 282.0,299.2 289.1,300.4 301.0,298.5 312.8,297.3 327.1,294.9 338.9,298.0 350.8,299.6 361.4,304.4 371.9,296.6 382.5,298.5 394.4,283.8 403.9,281.9 416.9,279.5 427.6,278.3 440.6,281.4 454.9,287.8 464.4,289.4 473.9,288.3 488.1,294.9 497.6,297.3 511.8,298.9 518.9,300.8 530.8,308.0 540.3,312.4 551.9,317.4 564.9,323.4 576.8,314.4 588.6,315.1 600.5,318.6 611.2,313.4 634.9,313.2 653.9,303.2 678.8,290.9" fill="none" stroke="#2a2a9a" stroke-width="1.1" stroke-linejoin="round" />
<line x1="201.5" x2="201.5" y1="335" y2="401" stroke="#a8a8a8" stroke-width="1" stroke-dasharray="1 3.6"/><line x1="430.5" x2="430.5" y1="335" y2="401" stroke="#a8a8a8" stroke-width="1" stroke-dasharray="1 3.6"/><line x1="679.5" x2="679.5" y1="335" y2="401" stroke="#a8a8a8" stroke-width="1" stroke-dasharray="1 3.6"/>
<line x1="2" x2="679.5" y1="352.5" y2="352.5" stroke="#8c8c8c" stroke-width="1" stroke-dasharray="1 3"/>
<line x1="2" x2="679.5" y1="390.5" y2="390.5" stroke="#8c8c8c" stroke-width="1" stroke-dasharray="1 3"/>
<line x1="2" x2="754" y1="371.5" y2="371.5" stroke="#c0c0c0" stroke-width="1" stroke-dasharray="1 3.6"/>
<polyline points="2.0,357.8 8.3,356.9 19.0,360.9 30.8,357.3 39.1,352.1 49.8,348.3 61.7,347.9 73.5,352.1 89.0,352.1 99.6,360.9 113.9,358.5 130.5,355.4 147.1,355.4 167.2,360.2 177.9,357.3 191.9,356.2 213.2,353.8 219.1,351.4 227.4,347.4 236.9,346.0 251.2,347.9 258.3,355.0 270.1,352.6 282.0,370.4 303.3,365.6 329.4,360.9 337.7,357.3 347.2,359.2 360.3,357.8 371.9,356.6 383.7,357.3 390.8,356.2 407.4,351.4 419.3,348.3 430.0,346.2 440.6,347.9 454.9,350.7 462.0,353.8 473.9,353.1 485.7,359.2 496.4,365.6 507.1,363.3 521.3,363.8 535.5,366.1 542.6,368.0 554.2,375.1 565.6,381.1 576.8,373.2 588.6,373.2 601.2,380.4 611.2,378.7 623.0,375.6 634.9,375.1 644.4,370.9 656.2,366.4 663.3,365.4 678.8,365.4" fill="none" stroke="#2a2a9a" stroke-width="1.1" stroke-linejoin="round" />
<rect x="691" y="135" width="1" height="266" fill="#4a7078"/>
<!-- main panel border -->
<rect x="754" y="2" width="1" height="133" fill="#c8282e"/>
<rect x="2" y="134" width="753" height="1.5" fill="#d8262b"/>

<g fill="#fafafa" fill-opacity="0.78">
<rect x="2" y="139" width="303" height="14.2"/>
<rect x="2" y="205.6" width="363" height="14.2"/>
<rect x="2" y="271.2" width="200" height="14.2"/>
<rect x="2" y="337.8" width="306" height="14.2"/>
</g>
<text x="1" y="149.5" fill="#141428" stroke="#141428" stroke-width="0.1" font-size="11.5" textLength="81" lengthAdjust="spacingAndGlyphs">CD All [12, 26, 9]</text>
<text x="86" y="149.5" fill="#2424a4" stroke="#2424a4" stroke-width="0.1" font-size="11.5" textLength="55" lengthAdjust="spacingAndGlyphs">MACD 0.04</text>
<text x="144.2" y="149.5" fill="#7c1c80" stroke="#7c1c80" stroke-width="0.1" font-size="11.5" textLength="59" lengthAdjust="spacingAndGlyphs">Trigger 0.04</text>
<text x="205.4" y="149.5" fill="#a4a4a4" stroke="#a4a4a4" stroke-width="0.1" font-size="11.5" textLength="44" lengthAdjust="spacingAndGlyphs">MACDF 0</text>
<text x="253.6" y="149.5" fill="#141428" stroke="#141428" stroke-width="0.1" font-size="11.5" textLength="50" lengthAdjust="spacingAndGlyphs">{GFJ GER}</text>
<text x="1" y="216.1" fill="#141428" stroke="#141428" stroke-width="0.1" font-size="11.5" textLength="117" lengthAdjust="spacingAndGlyphs">ative Vigor Index [10, 4]</text>
<text x="121.4" y="216.1" fill="#b4b4b4" stroke="#b4b4b4" stroke-width="0.1" font-size="11.5" textLength="62.6" lengthAdjust="spacingAndGlyphs">RVI Osc 0.13</text>
<text x="187.2" y="216.1" fill="#2424b4" stroke="#2424b4" stroke-width="0.1" font-size="11.5" textLength="42.4" lengthAdjust="spacingAndGlyphs">RVI 0.04</text>
<text x="232.6" y="216.1" fill="#7c1a70" stroke="#7c1a70" stroke-width="0.1" font-size="11.5" textLength="77.4" lengthAdjust="spacingAndGlyphs">RVI Signal -0.09</text>
<text x="315" y="216.1" fill="#141428" stroke="#141428" stroke-width="0.1" font-size="11.5" textLength="48.8" lengthAdjust="spacingAndGlyphs">{GFJ GER}</text>
<text x="1" y="281.7" fill="#141428" stroke="#141428" stroke-width="0.1" font-size="11.5" textLength="120" lengthAdjust="spacingAndGlyphs">mentum [Close, 10, Nein]</text>
<text x="124.5" y="281.7" fill="#2424a4" stroke="#2424a4" stroke-width="0.1" font-size="11.5" textLength="21.5" lengthAdjust="spacingAndGlyphs">0.70</text>
<text x="150.8" y="281.7" fill="#141428" stroke="#141428" stroke-width="0.1" font-size="11.5" textLength="49.8" lengthAdjust="spacingAndGlyphs">{GFJ GER}</text>
<text x="1" y="348.3" fill="#141428" stroke="#141428" stroke-width="0.1" font-size="11.5" textLength="221.5" lengthAdjust="spacingAndGlyphs">ative Strength Index [Close, 14, 30, 70, Nein]</text>
<text x="226.7" y="348.3" fill="#2424a4" stroke="#2424a4" stroke-width="0.1" font-size="11.5" textLength="26.5" lengthAdjust="spacingAndGlyphs">57.06</text>
<text x="257.7" y="348.3" fill="#141428" stroke="#141428" stroke-width="0.1" font-size="11.5" textLength="49" lengthAdjust="spacingAndGlyphs">{GFJ GER}</text>
<rect x="730.5" y="139.7" width="10" height="10" fill="#dadada" stroke="#b4b4b4" stroke-width="1"/>
<rect x="742.5" y="139.7" width="10" height="10" fill="#dadada" stroke="#b4b4b4" stroke-width="1"/>
<rect x="733" y="141.7" width="6" height="6" fill="#e0e0e0" stroke="#000" stroke-width="1.4"/>
<rect x="732.3" y="141.0" width="7.4" height="2" fill="#000"/>
<path d="M744.8 141.5L750.6 147.79999999999998M750.6 141.5L744.8 147.79999999999998" stroke="#000" stroke-width="1"/>
<rect x="730.5" y="206.3" width="10" height="10" fill="#dadada" stroke="#b4b4b4" stroke-width="1"/>
<rect x="742.5" y="206.3" width="10" height="10" fill="#dadada" stroke="#b4b4b4" stroke-width="1"/>
<rect x="733" y="208.3" width="6" height="6" fill="#e0e0e0" stroke="#000" stroke-width="1.4"/>
<rect x="732.3" y="207.60000000000002" width="7.4" height="2" fill="#000"/>
<path d="M744.8 208.10000000000002L750.6 214.4M750.6 208.10000000000002L744.8 214.4" stroke="#000" stroke-width="1"/>
<rect x="730.5" y="272.0" width="10" height="10" fill="#dadada" stroke="#b4b4b4" stroke-width="1"/>
<rect x="742.5" y="272.0" width="10" height="10" fill="#dadada" stroke="#b4b4b4" stroke-width="1"/>
<rect x="733" y="274.0" width="6" height="6" fill="#e0e0e0" stroke="#000" stroke-width="1.4"/>
<rect x="732.3" y="273.3" width="7.4" height="2" fill="#000"/>
<path d="M744.8 273.8L750.6 280.1M750.6 273.8L744.8 280.1" stroke="#000" stroke-width="1"/>
<rect x="730.5" y="338.5" width="10" height="10" fill="#dadada" stroke="#b4b4b4" stroke-width="1"/>
<rect x="742.5" y="338.5" width="10" height="10" fill="#dadada" stroke="#b4b4b4" stroke-width="1"/>
<rect x="733" y="340.5" width="6" height="6" fill="#e0e0e0" stroke="#000" stroke-width="1.4"/>
<rect x="732.3" y="339.8" width="7.4" height="2" fill="#000"/>
<path d="M744.8 340.3L750.6 346.6M750.6 340.3L744.8 346.6" stroke="#000" stroke-width="1"/>
<g fill="#000">
<rect x="201" y="403" width="1" height="3"/>
<rect x="430" y="403" width="1" height="3"/>
<rect x="679" y="403" width="1" height="3"/>
</g>
<text x="202.6" y="415.3" fill="#141414" stroke="#141414" stroke-width="0.15" font-size="10">Mai</text>
<text x="431.6" y="415.3" fill="#141414" stroke="#141414" stroke-width="0.15" font-size="10">Jun</text>
<text x="681.6" y="415.3" fill="#141414" stroke="#141414" stroke-width="0.15" font-size="10">Jul</text>
<path d="M788.5 407.5v7M786 410l2.5-2.5 2.5 2.5" stroke="#000" stroke-width="1" fill="none"/>
<rect x="756" y="6" width="2" height="1" fill="#000"/>
<rect x="756" y="11" width="2" height="1" fill="#000"/>
<rect x="756" y="17" width="5" height="1" fill="#000"/>
<rect x="756" y="23" width="2" height="1" fill="#000"/>
<rect x="756" y="29" width="2" height="1" fill="#000"/>
<rect x="756" y="34" width="2" height="1" fill="#000"/>
<rect x="756" y="40" width="2" height="1" fill="#000"/>
<rect x="756" y="46" width="5" height="1" fill="#000"/>
<rect x="756" y="52" width="2" height="1" fill="#000"/>
<rect x="756" y="58" width="2" height="1" fill="#000"/>
<rect x="756" y="63" width="2" height="1" fill="#000"/>
<rect x="756" y="69" width="2" height="1" fill="#000"/>
<rect x="756" y="75" width="5" height="1" fill="#000"/>
<rect x="756" y="81" width="2" height="1" fill="#000"/>
<rect x="756" y="86" width="2" height="1" fill="#000"/>
<rect x="756" y="92" width="2" height="1" fill="#000"/>
<rect x="756" y="98" width="2" height="1" fill="#000"/>
<rect x="756" y="104" width="5" height="1" fill="#000"/>
<rect x="756" y="110" width="2" height="1" fill="#000"/>
<rect x="756" y="115" width="2" height="1" fill="#000"/>
<rect x="756" y="121" width="2" height="1" fill="#000"/>
<rect x="756" y="127" width="2" height="1" fill="#000"/>
<rect x="756" y="133" width="2" height="1" fill="#000"/>
<rect x="756" y="158" width="2" height="1" fill="#000"/>
<rect x="756" y="165" width="2" height="1" fill="#000"/>
<rect x="756" y="172" width="2" height="1" fill="#000"/>
<rect x="756" y="179" width="2" height="1" fill="#000"/>
<rect x="756" y="186" width="2" height="1" fill="#000"/>
<rect x="756" y="193" width="2" height="1" fill="#000"/>
<rect x="756" y="225" width="2" height="1" fill="#000"/>
<rect x="756" y="230" width="2" height="1" fill="#000"/>
<rect x="756" y="236" width="2" height="1" fill="#000"/>
<rect x="756" y="242" width="2" height="1" fill="#000"/>
<rect x="756" y="248" width="2" height="1" fill="#000"/>
<rect x="756" y="253" width="2" height="1" fill="#000"/>
<rect x="756" y="259" width="2" height="1" fill="#000"/>
<rect x="756" y="265" width="2" height="1" fill="#000"/>
<rect x="756" y="285" width="2" height="1" fill="#000"/>
<rect x="756" y="293" width="2" height="1" fill="#000"/>
<rect x="756" y="310" width="2" height="1" fill="#000"/>
<rect x="756" y="318" width="2" height="1" fill="#000"/>
<rect x="756" y="327" width="2" height="1" fill="#000"/>
<rect x="756" y="302" width="5" height="1" fill="#000"/>
<rect x="756" y="352" width="2" height="1" fill="#000"/>
<rect x="756" y="361" width="2" height="1" fill="#000"/>
<rect x="756" y="380" width="2" height="1" fill="#000"/>
<rect x="756" y="390" width="2" height="1" fill="#000"/>
<rect x="756" y="399" width="2" height="1" fill="#000"/>
<rect x="756" y="371" width="5" height="1" fill="#000"/>
<text x="761.8" y="22.6" fill="#141420" stroke="#141420" stroke-width="0.1" font-size="11" textLength="21.4" lengthAdjust="spacingAndGlyphs">7.00</text>
<text x="761.8" y="79.4" fill="#141420" stroke="#141420" stroke-width="0.1" font-size="11" textLength="21.4" lengthAdjust="spacingAndGlyphs">5.00</text>
<text x="761.8" y="108.2" fill="#141420" stroke="#141420" stroke-width="0.1" font-size="11" textLength="21.4" lengthAdjust="spacingAndGlyphs">4.00</text>
<text x="761.8" y="306.8" fill="#141420" stroke="#141420" stroke-width="0.1" font-size="11" textLength="21.4" lengthAdjust="spacingAndGlyphs">0.00</text>
<text x="762.5" y="375.3" fill="#141420" stroke="#141420" stroke-width="0.1" font-size="11" textLength="27" lengthAdjust="spacingAndGlyphs">50.00</text>
<path d="M756.4 49L761.5 42.8H805V55.4H761.5Z" fill="url(#tag)" stroke="#404048" stroke-width="1.2"/><text x="768.5" y="52.9" fill="#141420" stroke="#141420" stroke-width="0.1" font-size="11" textLength="21.8" lengthAdjust="spacingAndGlyphs">5.94</text>
<path d="M756.4 178.1L761.5 171.3H805V185.2H761.5Z" fill="url(#tag)" stroke="#2020a8" stroke-width="1.2"/><text x="767.7" y="181.6" fill="#141420" stroke="#141420" stroke-width="0.1" font-size="11" textLength="21.8" lengthAdjust="spacingAndGlyphs">0.04</text>
<path d="M756.4 235.8L761.5 229.5H805V242.2H761.5Z" fill="url(#tag)" stroke="#a040a0" stroke-width="1.2"/>
<text x="767.6" y="239.6" fill="#141420" stroke="#141420" stroke-width="0.1" font-size="11" textLength="22.5" lengthAdjust="spacingAndGlyphs">-0.09</text>
<path d="M756.4 227.5L761.5 221H805V233.8H761.5Z" fill="url(#tag)" stroke="#2020a8" stroke-width="1.2"/><text x="767.6" y="231.5" fill="#141420" stroke="#141420" stroke-width="0.1" font-size="11" textLength="22.6" lengthAdjust="spacingAndGlyphs">0.04</text>
<path d="M756.4 291L761.5 284.8H805V297.5H761.5Z" fill="url(#tag)" stroke="#2020a8" stroke-width="1.2"/><text x="766.8" y="294.2" fill="#141420" stroke="#141420" stroke-width="0.1" font-size="11" textLength="12.6" lengthAdjust="spacingAndGlyphs">0.7</text>
<path d="M756.4 365.5L761.5 358.8H805V372.3H761.5Z" fill="url(#tag)" stroke="#2020a8" stroke-width="1.2"/><text x="768" y="369.2" fill="#141420" stroke="#141420" stroke-width="0.1" font-size="11" textLength="27" lengthAdjust="spacingAndGlyphs">57.06</text>
<text x="757.3" y="149.7" fill="#1c1c4c" stroke="#1c1c4c" stroke-width="0.1" font-size="11" textLength="28.2" lengthAdjust="spacingAndGlyphs">MACD</text>
<text x="757.3" y="215.6" fill="#1c1c4c" stroke="#1c1c4c" stroke-width="0.1" font-size="11" textLength="16" lengthAdjust="spacingAndGlyphs">RVI</text>
<text x="757.3" y="281.5" fill="#1c1c4c" stroke="#1c1c4c" stroke-width="0.1" font-size="11" textLength="23.5" lengthAdjust="spacingAndGlyphs">MOM</text>
<text x="757.3" y="347.6" fill="#1c1c4c" stroke="#1c1c4c" stroke-width="0.1" font-size="11" textLength="15.5" lengthAdjust="spacingAndGlyphs">RSI</text>
<path d="M791.5 143.2h6l-3 3z" fill="#000"/>
<path d="M791.5 209.2h6l-3 3z" fill="#000"/>
<path d="M791.5 275.2h6l-3 3z" fill="#000"/>
<path d="M791.5 341.6h6l-3 3z" fill="#000"/>
<rect x="799" y="0" width="2" height="417" fill="#000"/>
<rect x="0" y="415" width="801" height="2" fill="#000"/>
</svg>
</body></html>
